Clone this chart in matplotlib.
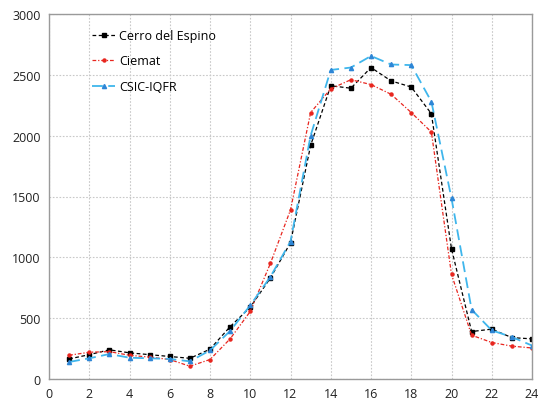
import matplotlib

matplotlib.use("Agg")

import matplotlib.pyplot as plt

# Hourly values for the three stations
hours = list(range(1, 25))
cerro = [165, 200, 240, 215, 200, 185, 170, 245, 430, 590, 830, 1120,
         1920, 2410, 2390, 2560, 2450, 2400, 2180, 1070, 390, 410, 340, 330]
ciemat = [195, 220, 225, 195, 180, 160, 105, 160, 330, 555, 950, 1390,
          2190, 2385, 2460, 2420, 2340, 2190, 2030, 860, 360, 300, 270, 255]
csic = [140, 170, 205, 175, 170, 165, 145, 235, 395, 605, 840, 1130,
        2000, 2540, 2560, 2655, 2585, 2580, 2280, 1485, 570, 400, 345, 275]

x_ticks = list(range(0, 25, 2))
y_ticks = list(range(0, 3001, 500))

plt.rcParams["font.family"] = ["Open Sans", "DejaVu Sans"]

fig = plt.figure(figsize=(5.38, 4.06), dpi=100)
ax = fig.add_axes([49 / 538, 1 - 380 / 406, 483 / 538, 365 / 406])

ax.plot(hours, cerro, color="black", linestyle=(0, (3, 2)), linewidth=0.9,
        marker="s", markersize=2.6, label="Cerro del Espino")
ax.plot(hours, ciemat, color="#e8261f", linestyle=(0, (3, 1.5, 1, 1.5)), linewidth=0.9,
        marker="o", markersize=2.2, label="Ciemat")
ax.plot(hours, csic, color="#3fb6ec", linestyle=(0, (6, 3)), linewidth=1.3,
        marker="^", markersize=3, markerfacecolor="#2e86d6", markeredgecolor="#2e86d6",
        label="CSIC-IQFR")

ax.set_xlim(0, 24)
ax.set_ylim(0, 3000)
ax.set_xticks(x_ticks)
ax.set_yticks(y_ticks)
ax.tick_params(length=0, labelsize=9, colors="#222222", pad=6)
ax.grid(True, color="#c8c8c8", linestyle=(0, (1.5, 1.5)), linewidth=0.8)
ax.set_axisbelow(True)
for s in ax.spines.values():
    s.set_color("#9a9a9a")
    s.set_linewidth(1.0)

ax.legend(loc="upper left", bbox_to_anchor=(0.065, 0.99), frameon=False,
          fontsize=9, handlelength=1.9, handletextpad=0.3, labelspacing=1.0)

fig.savefig("out.png", dpi=100)
